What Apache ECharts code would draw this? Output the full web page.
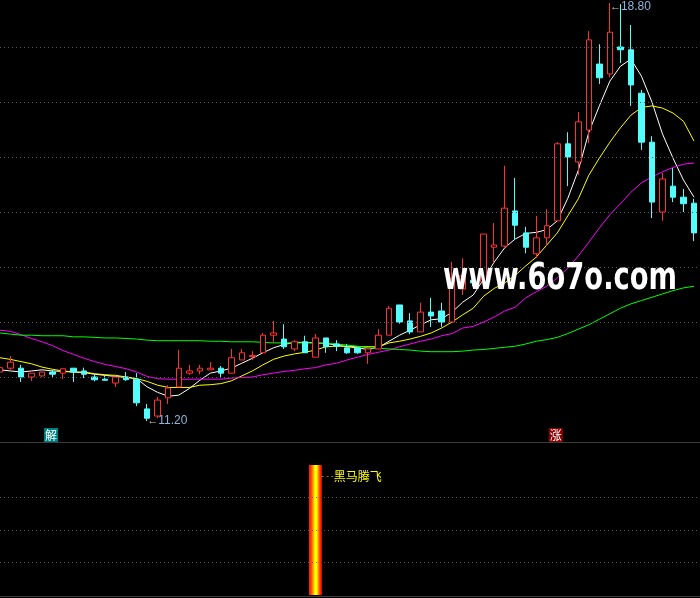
<!DOCTYPE html>
<html><head><meta charset="utf-8">
<script src="https://cdn.jsdelivr.net/npm/echarts@6/dist/echarts.min.js"></script>
<style>html,body{margin:0;padding:0;background:#000;overflow:hidden}#c{width:700px;height:598px}</style>
</head><body><div id="c"></div>
<script>
// ---- data ----
const days = ['1','2','3','4','5','6','7','8','9','10','11','12','13','14','15','16','17','18','19','20',
  '21','22','23','24','25','26','27','28','29','30','31','32','33','34','35','36','37','38','39','40',
  '41','42','43','44','45','46','47','48','49','50','51','52','53','54','55','56','57','58','59','60',
  '61','62','63','64','65','66','67'];
const openP  = [12.09,12.16,12.16,12.00,12.02,12.09,12.07,12.16,12.11,12.00,11.96,11.89,12.00,11.96,11.42,11.29,11.62,11.82,12.07,12.11,
  12.13,12.16,12.07,12.31,12.37,12.44,12.76,12.69,12.51,12.64,12.36,12.71,12.60,12.53,12.53,12.44,12.51,12.76,13.31,13.02,
  12.82,13.18,13.20,13.00,13.60,13.76,13.73,14.36,14.38,15.02,14.62,14.24,14.53,14.84,16.24,15.91,16.49,17.69,17.51,18.00,
  17.95,17.16,16.27,15.00,15.47,15.27,15.16];
const closeP = [12.17,12.27,12.00,12.07,12.09,12.05,12.15,12.09,12.05,11.95,11.94,12.00,11.95,11.53,11.25,11.58,11.80,12.16,12.11,12.16,
  12.16,12.07,12.35,12.44,12.39,12.76,12.80,12.55,12.64,12.44,12.71,12.55,12.56,12.44,12.44,12.51,12.76,13.25,13.00,12.82,
  13.18,13.11,13.00,13.78,13.84,13.71,14.60,14.40,15.07,14.76,14.36,14.53,14.75,16.24,16.00,16.64,18.13,17.44,18.27,17.95,
  17.31,16.27,15.18,15.60,15.27,15.15,14.62];
const lowP   = [12.07,12.13,11.91,11.93,12.00,12.00,11.96,11.91,11.98,11.92,11.93,11.82,11.93,11.47,11.20,11.25,11.51,11.82,12.04,12.05,
  12.13,11.98,12.07,12.31,12.31,12.44,12.62,12.51,12.47,12.44,12.36,12.44,12.47,12.42,12.42,12.24,12.51,12.76,12.97,12.78,
  12.82,12.91,12.91,13.00,13.49,13.65,13.60,14.07,14.36,14.49,14.25,14.16,14.38,14.84,15.47,15.67,16.25,17.33,17.45,17.71,
  16.93,16.13,14.89,14.84,15.18,15.00,14.47];
const highP  = [12.20,12.38,12.22,12.07,12.10,12.13,12.15,12.16,12.17,12.05,12.02,12.00,12.09,12.07,11.51,11.64,11.85,12.49,12.22,12.22,
  12.27,12.20,12.51,12.51,12.47,12.80,13.02,12.96,12.67,12.75,12.78,12.71,12.67,12.60,12.53,12.51,12.87,13.29,13.31,13.16,
  13.35,13.44,13.35,14.09,14.16,13.85,14.60,14.80,15.84,15.62,14.73,14.93,15.05,16.27,16.45,16.82,18.29,18.05,18.80,18.78,
  18.40,17.22,16.38,15.71,15.80,15.42,15.24];
const ma5  = [12.13,12.11,12.09,12.11,12.13,12.11,12.10,12.09,12.08,12.05,12.03,12.01,11.99,11.97,11.82,11.72,11.65,11.67,11.79,11.94,
  12.07,12.11,12.16,12.25,12.34,12.44,12.53,12.59,12.63,12.63,12.62,12.61,12.58,12.55,12.53,12.50,12.54,12.65,12.76,12.85,
  12.95,13.04,13.06,13.18,13.36,13.49,13.78,14.09,14.35,14.51,14.61,14.63,14.68,14.84,15.25,15.76,16.45,16.93,17.38,17.65,
  17.78,17.47,17.00,16.42,15.98,15.58,15.27];
const ma10 = [12.35,12.32,12.28,12.24,12.18,12.14,12.11,12.09,12.09,12.06,12.04,12.03,12.00,11.97,11.92,11.85,11.81,11.81,11.81,11.85,
  11.86,11.88,11.93,12.02,12.11,12.22,12.32,12.38,12.42,12.45,12.49,12.55,12.56,12.56,12.55,12.55,12.55,12.62,12.65,12.69,
  12.74,12.80,12.89,13.00,13.13,13.25,13.47,13.61,13.71,13.85,14.02,14.18,14.40,14.62,14.93,15.24,15.67,15.98,16.27,16.53,
  16.76,16.90,16.93,16.89,16.80,16.65,16.29];
const ma20 = [12.85,12.83,12.77,12.70,12.64,12.57,12.48,12.41,12.34,12.28,12.23,12.19,12.15,12.09,12.01,11.97,11.96,11.96,11.96,11.96,
  11.96,11.96,11.98,11.99,12.00,12.04,12.07,12.10,12.12,12.15,12.17,12.22,12.25,12.31,12.36,12.41,12.45,12.49,12.55,12.60,
  12.65,12.69,12.75,12.79,12.89,12.92,13.00,13.09,13.20,13.27,13.44,13.55,13.65,13.80,13.98,14.20,14.45,14.71,14.95,15.15,
  15.36,15.53,15.64,15.73,15.81,15.87,15.89];
const ma60 = [12.80,12.78,12.76,12.76,12.75,12.75,12.75,12.73,12.73,12.72,12.71,12.71,12.70,12.69,12.67,12.66,12.66,12.66,12.66,12.66,
  12.65,12.65,12.64,12.64,12.64,12.63,12.62,12.62,12.62,12.62,12.62,12.61,12.60,12.58,12.56,12.53,12.52,12.51,12.50,12.49,
  12.47,12.46,12.46,12.46,12.47,12.49,12.50,12.52,12.54,12.56,12.60,12.65,12.68,12.72,12.79,12.87,12.95,13.05,13.15,13.25,
  13.33,13.39,13.45,13.51,13.57,13.62,13.65];
const priceTicks = [12,13,14,15,16,17,18];
const signalTicks = [1,2,3];
const signalDay = '31';
const signalValue = 4;
const signalText = '黑马腾飞';
const tagDays = ['6','54'];
const tagTexts = ['解','涨'];

// ---- build ----
const candles = days.map((d,i)=>[openP[i],closeP[i],lowP[i],highP[i]]);
const signalData = days.map(d => d === signalDay ? signalValue : '-');
let hiIdx = 0, loIdx = 0;
highP.forEach((v,i)=>{ if (v > highP[hiIdx]) hiIdx = i; });
lowP.forEach((v,i)=>{ if (v < lowP[loIdx]) loIdx = i; });

const Y_MIN = 10.818, Y_MAX = 18.855, S_MAX = 4.677;
const tagBg = ['#008080','#8b0000'];
const numFont = '"Liberation Sans", Arial, sans-serif';
const cjkFont = '"Noto Sans CJK SC", sans-serif';
const gridLine = {color:'#5a5a5a', type:[1,3], width:1};

const chart = echarts.init(document.getElementById('c'), null, {renderer:'canvas'});
const maSeries = (name, data, color) => ({
  name, type:'line', data, xAxisIndex:0, yAxisIndex:0, symbol:'none', smooth:false,
  lineStyle:{color, width:1}, silent:true, z:3
});
chart.setOption({
  backgroundColor:'#000',
  animation:false,
  grid:[
    {left:0, right:6, top:0, height:442},
    {left:0, right:6, top:443, height:152},
    {left:0, right:0, top:0, height:442},
    {left:0, right:0, top:443, height:152}
  ],
  xAxis:[
    {type:'category', gridIndex:0, data:days, boundaryGap:false, show:false},
    {type:'category', gridIndex:1, data:days, boundaryGap:false, show:false},
    {type:'category', gridIndex:2, data:['a'], show:false},
    {type:'category', gridIndex:3, data:['a'], show:false}
  ],
  yAxis:[
    {type:'value', gridIndex:0, min:Y_MIN, max:Y_MAX, show:false, splitLine:{show:false}},
    {type:'value', gridIndex:1, min:0, max:S_MAX, show:false, splitLine:{show:false}},
    {type:'value', gridIndex:2, min:Y_MIN, max:Y_MAX, show:false, splitLine:{show:false}},
    {type:'value', gridIndex:3, min:0, max:S_MAX, show:false, splitLine:{show:false}}
  ],
  series:[
    {
      type:'line', xAxisIndex:2, yAxisIndex:2, data:[], silent:true,
      markLine:{silent:true, symbol:['none','none'], label:{show:false}, lineStyle:gridLine,
        data: priceTicks.map(v=>({yAxis:v}))}
    },
    {
      type:'line', xAxisIndex:3, yAxisIndex:3, data:[], silent:true,
      markLine:{silent:true, symbol:['none','none'], label:{show:false}, lineStyle:gridLine,
        data: signalTicks.map(v=>({yAxis:v}))}
    },
    {
      type:'candlestick', xAxisIndex:0, yAxisIndex:0, data:candles, barWidth:6, z:4, clip:false,
      itemStyle:{color:'#000', color0:'#54fcfc', borderColor:'#ff3232', borderColor0:'#54fcfc', borderWidth:1},
      markPoint:{
        symbol:'rect', symbolSize:0, silent:true,
        data:[
          {coord:[hiIdx, highP[hiIdx]], label:{show:true, position:'right', distance:0, offset:[0,4],
            formatter:'{a|←}{b|'+highP[hiIdx].toFixed(2)+'}',
            rich:{a:{color:'#c8c8c8', fontSize:11, fontFamily:numFont}, b:{color:'#90b4dc', fontSize:12, fontFamily:numFont}}}},
          {coord:[loIdx, lowP[loIdx]], label:{show:true, position:'right', distance:0, offset:[0,0],
            formatter:'{a|←}{b|'+lowP[loIdx].toFixed(2)+'}',
            rich:{a:{color:'#c8c8c8', fontSize:11, fontFamily:numFont}, b:{color:'#90b4dc', fontSize:12, fontFamily:numFont}}}}
        ].concat(tagDays.map((d,k)=>({
          coord:[days.indexOf(d), Y_MIN],
          label:{show:true, position:'inside', offset:[-1.5,-7], formatter:tagTexts[k],
            color:'#fff', backgroundColor:tagBg[k], fontSize:12, lineHeight:13, padding:[1,1,0,1], fontFamily:cjkFont}
        })))
      }
    },
    maSeries('MA5', ma5, '#ffffff'),
    maSeries('MA10', ma10, '#ffff00'),
    maSeries('MA20', ma20, '#ff00ff'),
    maSeries('MA60', ma60, '#00ff00'),
    {
      type:'bar', xAxisIndex:1, yAxisIndex:1, data:signalData, barWidth:13, silent:true,
      itemStyle:{color:new echarts.graphic.LinearGradient(0,0,1,0,[
        {offset:0,color:'#ff1010'},{offset:0.2,color:'#ff5000'},{offset:0.35,color:'#ffb000'},
        {offset:0.45,color:'#ffff00'},{offset:0.6,color:'#ffff00'},{offset:0.72,color:'#ff9000'},
        {offset:0.85,color:'#ff3000'},{offset:1,color:'#e00000'}])},
      markPoint:{symbol:'rect', symbolSize:0, silent:true,
        data:[{coord:[days.indexOf(signalDay), signalValue], label:{show:true, position:'right', distance:0, offset:[1,11],
          formatter:'{d|- - - -}{t|'+signalText+'}',
          rich:{d:{color:'#c8c800', fontSize:8, fontFamily:numFont}, t:{color:'#ffff00', fontSize:12, fontFamily:cjkFont}}}}]}
    }
  ],
  graphic:[
    {type:'line', silent:true, shape:{x1:0,y1:442.5,x2:700,y2:442.5}, style:{stroke:'#3c3c3c', lineWidth:1}, z:1},
    {type:'line', silent:true, shape:{x1:0,y1:596.5,x2:700,y2:596.5}, style:{stroke:'#3c3c3c', lineWidth:1}, z:1},
    {type:'text', silent:true, x:443, y:279, scaleX:0.72, z:100,
      style:{text:'www.6o7o.com', font:'bold 38px "DejaVu Sans"', fill:'#ffffff', verticalAlign:'middle', align:'left',
        textShadowColor:'rgba(150,150,150,0.9)', textShadowOffsetX:1, textShadowOffsetY:1, textShadowBlur:0}}
  ]
});
</script></body></html>
